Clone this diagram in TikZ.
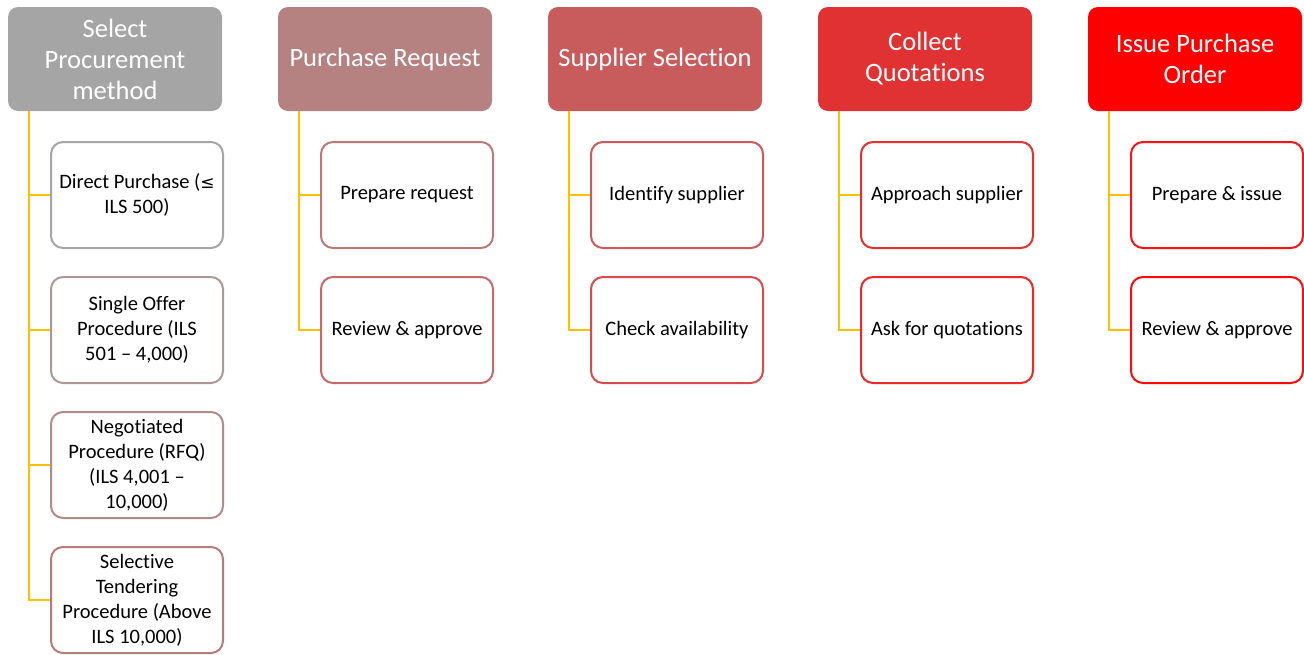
\documentclass[tikz,border=0pt]{standalone}
\usepackage{fontspec}
\setmainfont{Carlito}[Ligatures=NoCommon]
\newfontfamily\symfont{DejaVu Sans}
\definecolor{hA}{HTML}{A5A5A5}
\definecolor{hB}{HTML}{B58181}
\definecolor{hC}{HTML}{C85C5C}
\definecolor{hD}{HTML}{E03232}
\definecolor{hE}{HTML}{FF0000}
\definecolor{bA1}{HTML}{A5A5A5}
\definecolor{bA2}{HTML}{AC9898}
\definecolor{bA3}{HTML}{B18A8A}
\definecolor{bA4}{HTML}{B67C7C}
\definecolor{bB1}{HTML}{BD7878}
\definecolor{bB2}{HTML}{C46A6A}
\definecolor{bC1}{HTML}{CF5858}
\definecolor{bC2}{HTML}{D64C4C}
\definecolor{bD1}{HTML}{E63030}
\definecolor{bD2}{HTML}{EC2828}
\definecolor{bE1}{HTML}{FF1212}
\definecolor{bE2}{HTML}{FF0A0A}
\definecolor{linkc}{HTML}{FFC000}
\begin{document}
\begin{tikzpicture}[x=1pt,y=-1pt,
  head/.style={fill=#1, rounded corners=10pt, minimum width=214pt, minimum height=104pt,
    text=white, align=center, inner sep=0pt, font=\fontsize{26.5}{31}\selectfont},
  item/.style={draw=#1, line width=2pt, fill=white, rounded corners=12pt,
    minimum width=172pt, minimum height=106pt, align=center, inner sep=0pt,
    text=black, font=\fontsize{20.5}{25}\selectfont},
  link/.style={draw=linkc, line width=2.5pt}]
\useasboundingbox (0,0) rectangle (1304,654);

% column headers
\node[head=hA] (h1) at (115,59) {Select\\Procurement\\method};
\node[head=hB] (h2) at (385,59) {Purchase Request};
\node[head=hC] (h3) at (655,59) {Supplier Selection};
\node[head=hD] (h4) at (925,59) {Collect\\Quotations};
\node[head=hE] (h5) at (1195,59) {Issue Purchase\\Order};

% first column: procurement methods
\node[item=bA1] (c11) at (137,195) {Direct Purchase ({\symfont\fontsize{17}{25}\selectfont ≤}\\ILS 500)};
\node[item=bA2] (c12) at (137,330) {Single Offer\\Procedure (ILS\\501 – 4,000)};
\node[item=bA3] (c13) at (137,465) {Negotiated\\Procedure (RFQ)\\(ILS 4,001 –\\10,000)};
\node[item=bA4] (c14) at (137,600) {Selective\\Tendering\\Procedure (Above\\ILS 10,000)};

% remaining columns
\node[item=bB1] (c21) at (407,195) {Prepare request};
\node[item=bB2] (c22) at (407,330) {Review \& approve};
\node[item=bC1] (c31) at (677,195) {Identify supplier};
\node[item=bC2] (c32) at (677,330) {Check availability};
\node[item=bD1] (c41) at (947,195) {Approach supplier};
\node[item=bD2] (c42) at (947,330) {Ask for quotations};
\node[item=bE1] (c51) at (1217,195) {Prepare \& issue};
\node[item=bE2] (c52) at (1217,330) {Review \& approve};

% connectors: trunk from each header down to its last item, branch to the others
\draw[link] ([xshift=21pt]h1.south west) |- (c14.west);
\foreach \c in {c11,c12,c13} \draw[link] (\c.west) -- ++(-22,0);
\draw[link] ([xshift=21pt]h2.south west) |- (c22.west);
\draw[link] (c21.west) -- ++(-22,0);
\draw[link] ([xshift=21pt]h3.south west) |- (c32.west);
\draw[link] (c31.west) -- ++(-22,0);
\draw[link] ([xshift=21pt]h4.south west) |- (c42.west);
\draw[link] (c41.west) -- ++(-22,0);
\draw[link] ([xshift=21pt]h5.south west) |- (c52.west);
\draw[link] (c51.west) -- ++(-22,0);
\end{tikzpicture}
\end{document}
